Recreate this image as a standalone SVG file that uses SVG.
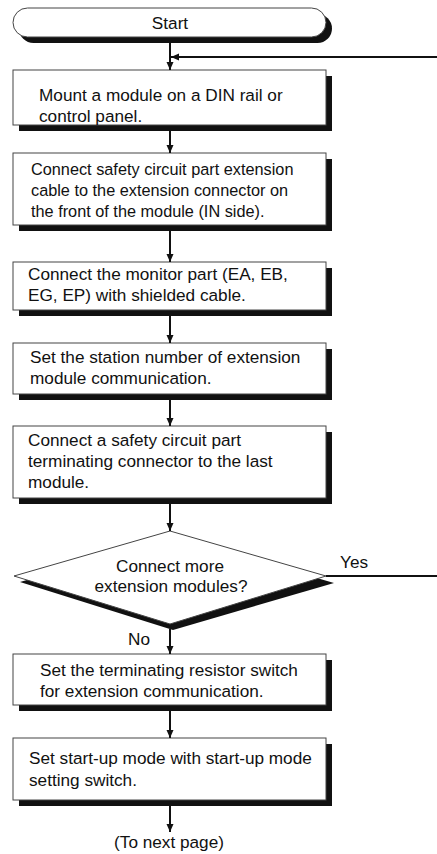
<svg xmlns="http://www.w3.org/2000/svg" width="437" height="854" viewBox="0 0 437 854">
<style>
.box{fill:#fff;stroke:#444;stroke-width:1}
.sh{fill:#111}
.t{font-family:"Liberation Sans",Arial,sans-serif;font-size:17.2px;fill:#111}
.n{font-size:16.3px}
.c{text-anchor:middle}
.ln{stroke:#111;stroke-width:2;fill:none}
</style>
<defs>
<marker id="ah" markerUnits="userSpaceOnUse" markerWidth="9" markerHeight="8" refX="8" refY="3.5" orient="auto">
<path d="M0,0 L8,3.5 L0,7 z" fill="#111"/>
</marker>
</defs>
<rect width="437" height="854" fill="#fff"/>
<g id="start">
<rect class="sh" x="19" y="14" width="313" height="29" rx="14.5"/>
<rect class="box" x="13" y="8" width="313" height="29" rx="14.5"/>
<text class="t c" x="170" y="29">Start</text>
</g>
<g id="n1">
<rect class="sh" x="19" y="76" width="313" height="55"/>
<rect class="box" x="13" y="70" width="313" height="55"/>
<text class="t" x="39" y="101">Mount a module on a DIN rail or</text>
<text class="t" x="39" y="122">control panel.</text>
</g>
<g id="n2">
<rect class="sh" x="19" y="159" width="313" height="72"/>
<rect class="box" x="13" y="153" width="313" height="72"/>
<text class="t n" x="31" y="175">Connect safety circuit part extension</text>
<text class="t n" x="31" y="196">cable to the extension connector on</text>
<text class="t n" x="31" y="217">the front of the module (IN side).</text>
</g>
<g id="n3">
<rect class="sh" x="19" y="268" width="313" height="48"/>
<rect class="box" x="13" y="262" width="313" height="48"/>
<text class="t" x="28" y="280">Connect the monitor part (EA, EB,</text>
<text class="t" x="28" y="301">EG, EP) with shielded cable.</text>
</g>
<g id="n4">
<rect class="sh" x="19" y="349" width="313" height="51"/>
<rect class="box" x="13" y="343" width="313" height="51"/>
<text class="t" x="30" y="363">Set the station number of extension</text>
<text class="t" x="30" y="384">module communication.</text>
</g>
<g id="n5">
<rect class="sh" x="19" y="432" width="313" height="72"/>
<rect class="box" x="13" y="426" width="313" height="72"/>
<text class="t" x="28" y="446">Connect a safety circuit part</text>
<text class="t" x="28" y="467">terminating connector to the last</text>
<text class="t" x="28" y="488">module.</text>
</g>
<g id="d1">
<polygon class="sh" points="176,537 334,583 173,630 20,582"/>
<polygon class="box" points="170,531 326,576 170,624 14,576"/>
<text class="t c" x="170" y="572">Connect more</text>
<text class="t c" x="171" y="592">extension modules?</text>
</g>
<g id="n6">
<rect class="sh" x="19" y="660" width="313" height="51"/>
<rect class="box" x="13" y="654" width="313" height="51"/>
<text class="t" x="40" y="676">Set the terminating resistor switch</text>
<text class="t" x="40" y="697">for extension communication.</text>
</g>
<g id="n7">
<rect class="sh" x="19" y="744" width="313" height="62"/>
<rect class="box" x="13" y="738" width="313" height="62"/>
<text class="t" x="29" y="764">Set start-up mode with start-up mode</text>
<text class="t" x="29" y="786">setting switch.</text>
</g>
<g id="end">
<text class="t c" x="169" y="848">(To next page)</text>
</g>
<g id="connectors">
<line class="ln" x1="170" y1="43" x2="170" y2="70" marker-end="url(#ah)"/>
<line class="ln" x1="437" y1="57" x2="171" y2="57" marker-end="url(#ah)"/>
<line class="ln" x1="170" y1="131" x2="170" y2="153" marker-end="url(#ah)"/>
<line class="ln" x1="170" y1="231" x2="170" y2="262" marker-end="url(#ah)"/>
<line class="ln" x1="170" y1="316" x2="170" y2="343" marker-end="url(#ah)"/>
<line class="ln" x1="170" y1="400" x2="170" y2="426" marker-end="url(#ah)"/>
<line class="ln" x1="170" y1="504" x2="170" y2="531" marker-end="url(#ah)"/>
<line x1="326" y1="576" x2="437" y2="576" stroke="#111" stroke-width="2"/>
<text class="t" x="340" y="568">Yes</text>
<line class="ln" x1="170" y1="629" x2="170" y2="654" marker-end="url(#ah)"/>
<text class="t" x="128" y="645">No</text>
<line class="ln" x1="170" y1="711" x2="170" y2="738" marker-end="url(#ah)"/>
<line class="ln" x1="170" y1="806" x2="170" y2="832" marker-end="url(#ah)"/>
</g>
</svg>
